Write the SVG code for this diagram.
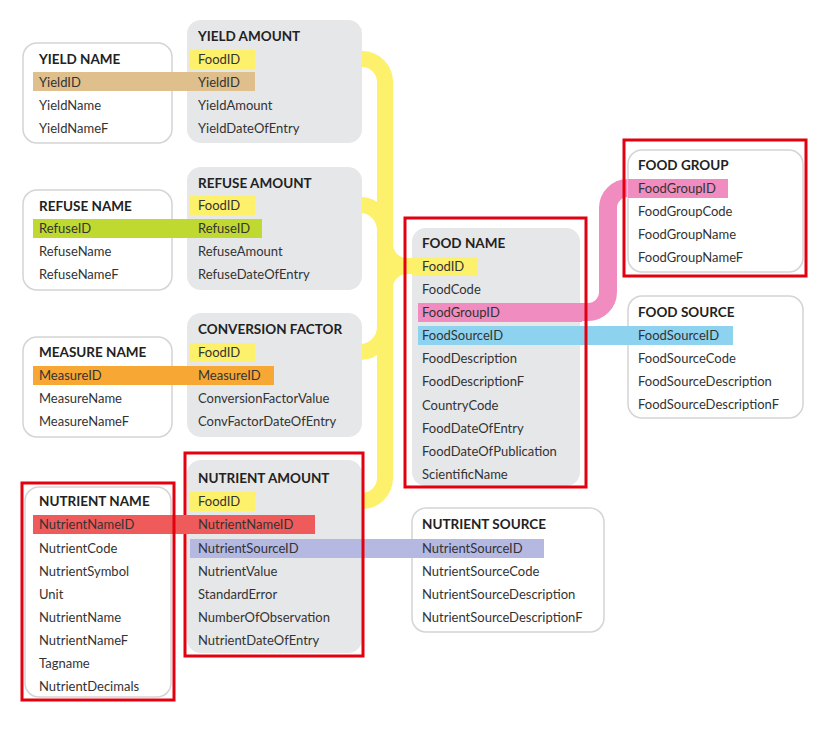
<svg xmlns="http://www.w3.org/2000/svg" width="821" height="730" viewBox="0 0 821 730">
<style>
text{font-family:Lato,"Open Sans","Liberation Sans",sans-serif;font-size:13px;fill:#333}
.t{font-weight:bold;font-size:13.5px;fill:#222}
.w{fill:#fff;stroke:#d4d4d4;stroke-width:1.5}
.g{fill:#e6e7e9}
.r{fill:none;stroke:#e3000f;stroke-width:3}
.y{fill:none;stroke:#fdf06b;stroke-width:16;stroke-linejoin:round}
</style>
<rect width="821" height="730" fill="#fff"/>
<g id="connectors">
<path class="y" d="M190 59 H362 a23 23 0 0 1 23 23 V478 a23 23 0 0 1 -23 23 H190"/>
<path class="y" d="M190 205 H360 a25 25 0 0 1 25 25"/>
<path class="y" d="M190 352 H360 a25 25 0 0 0 25 -25"/>
<path class="y" d="M420 266 H407 a22 22 0 0 1 -22 -22 M407 266 a22 22 0 0 0 -22 22"/>
<path d="M575 312 H588 a20 20 0 0 0 20 -20 V208 a20 20 0 0 1 20 -20" fill="none" stroke="#f08cbf" stroke-width="18"/>
</g>
<g id="nutrient-source"><rect class="w" x="412" y="508" width="192" height="124" rx="14"/>
<text class="t" x="422" y="529">NUTRIENT SOURCE</text><text x="422" y="576">NutrientSourceCode</text><text x="422" y="599">NutrientSourceDescription</text><text x="422" y="622">NutrientSourceDescriptionF</text></g>
<g id="food-source"><rect class="w" x="628" y="296" width="175" height="122" rx="14"/>
<text class="t" x="638" y="317">FOOD SOURCE</text><text x="638" y="363">FoodSourceCode</text><text x="638" y="386">FoodSourceDescription</text><text x="638" y="409">FoodSourceDescriptionF</text></g>
<g id="food-group"><rect class="w" x="628" y="150" width="175" height="122" rx="14"/>
<rect x="628" y="179" width="100" height="19" fill="#f08cbf"/>
<text class="t" x="638" y="170">FOOD GROUP</text><text x="638" y="193">FoodGroupID</text><text x="638" y="216">FoodGroupCode</text><text x="638" y="239">FoodGroupName</text><text x="638" y="262">FoodGroupNameF</text>
<rect class="r" x="624" y="140" width="182" height="136"/></g>
<g id="yield-amount"><rect class="g" x="187" y="20" width="175" height="123" rx="14"/>
<rect x="190" y="50" width="65" height="19" fill="#fdf06b"/>
<text class="t" x="198" y="41">YIELD AMOUNT</text><text x="198" y="64">FoodID</text><text x="198" y="110">YieldAmount</text><text x="198" y="133">YieldDateOfEntry</text></g>
<g id="yield-name"><rect class="w" x="23" y="43" width="149" height="100" rx="14"/>
<rect x="33" y="72" width="222" height="19" fill="#dfbf8c"/>
<text class="t" x="39" y="64">YIELD NAME</text><text x="39" y="87">YieldID</text><text x="198" y="87">YieldID</text><text x="39" y="110">YieldName</text><text x="39" y="133">YieldNameF</text></g>
<g id="refuse-amount"><rect class="g" x="187" y="167" width="175" height="123" rx="14"/>
<rect x="190" y="196" width="65" height="19" fill="#fdf06b"/>
<text class="t" x="198" y="188">REFUSE AMOUNT</text><text x="198" y="210">FoodID</text><text x="198" y="256">RefuseAmount</text><text x="198" y="279">RefuseDateOfEntry</text></g>
<g id="refuse-name"><rect class="w" x="23" y="190" width="149" height="100" rx="14"/>
<rect x="33" y="219" width="229" height="19" fill="#c0d930"/>
<text class="t" x="39" y="211">REFUSE NAME</text><text x="39" y="233">RefuseID</text><text x="198" y="233">RefuseID</text><text x="39" y="256">RefuseName</text><text x="39" y="279">RefuseNameF</text></g>
<g id="conversion-factor"><rect class="g" x="187" y="313" width="175" height="124" rx="14"/>
<rect x="190" y="343" width="65" height="19" fill="#fdf06b"/>
<text class="t" x="198" y="334">CONVERSION FACTOR</text><text x="198" y="357">FoodID</text><text x="198" y="403">ConversionFactorValue</text><text x="198" y="426">ConvFactorDateOfEntry</text></g>
<g id="measure-name"><rect class="w" x="23" y="337" width="149" height="100" rx="14"/>
<rect x="33" y="366" width="241" height="19" fill="#f7a733"/>
<text class="t" x="39" y="357">MEASURE NAME</text><text x="39" y="380">MeasureID</text><text x="198" y="380">MeasureID</text><text x="39" y="403">MeasureName</text><text x="39" y="426">MeasureNameF</text></g>
<g id="nutrient-amount"><rect class="g" x="187" y="460" width="175" height="193" rx="14"/>
<rect x="190" y="492" width="65" height="19" fill="#fdf06b"/>
<rect x="190" y="539" width="354" height="19" fill="#b5b8e0"/>
<text class="t" x="198" y="483">NUTRIENT AMOUNT</text><text x="198" y="506">FoodID</text><text x="198" y="553">NutrientSourceID</text><text x="422" y="553">NutrientSourceID</text><text x="198" y="576">NutrientValue</text><text x="198" y="599">StandardError</text><text x="198" y="622">NumberOfObservation</text><text x="198" y="645">NutrientDateOfEntry</text>
<rect class="r" x="185" y="453" width="178" height="203"/></g>
<g id="nutrient-name"><rect class="w" x="25" y="487" width="146" height="210" rx="14"/>
<rect x="33" y="515" width="282" height="19" fill="#ef5b5b"/>
<text class="t" x="39" y="506">NUTRIENT NAME</text><text x="39" y="529">NutrientNameID</text><text x="198" y="529">NutrientNameID</text><text x="39" y="553">NutrientCode</text><text x="39" y="576">NutrientSymbol</text><text x="39" y="599">Unit</text><text x="39" y="622">NutrientName</text><text x="39" y="645">NutrientNameF</text><text x="39" y="668">Tagname</text><text x="39" y="691">NutrientDecimals</text>
<rect class="r" x="22" y="483" width="152" height="217"/></g>
<g id="food-name"><rect class="g" x="412" y="228" width="168" height="258" rx="14"/>
<rect x="412" y="257" width="66" height="19" fill="#fdf06b"/>
<rect x="418" y="303" width="164" height="19" fill="#f08cbf"/>
<rect x="418" y="326" width="315" height="19" fill="#8dd3f0"/>
<text class="t" x="422" y="248">FOOD NAME</text><text x="422" y="271">FoodID</text><text x="422" y="294">FoodCode</text><text x="422" y="317">FoodGroupID</text><text x="422" y="340">FoodSourceID</text><text x="638" y="340">FoodSourceID</text><text x="422" y="363">FoodDescription</text><text x="422" y="386">FoodDescriptionF</text><text x="422" y="410">CountryCode</text><text x="422" y="433">FoodDateOfEntry</text><text x="422" y="456">FoodDateOfPublication</text><text x="422" y="479">ScientificName</text>
<rect class="r" x="405" y="218" width="181" height="269"/></g>
</svg>
